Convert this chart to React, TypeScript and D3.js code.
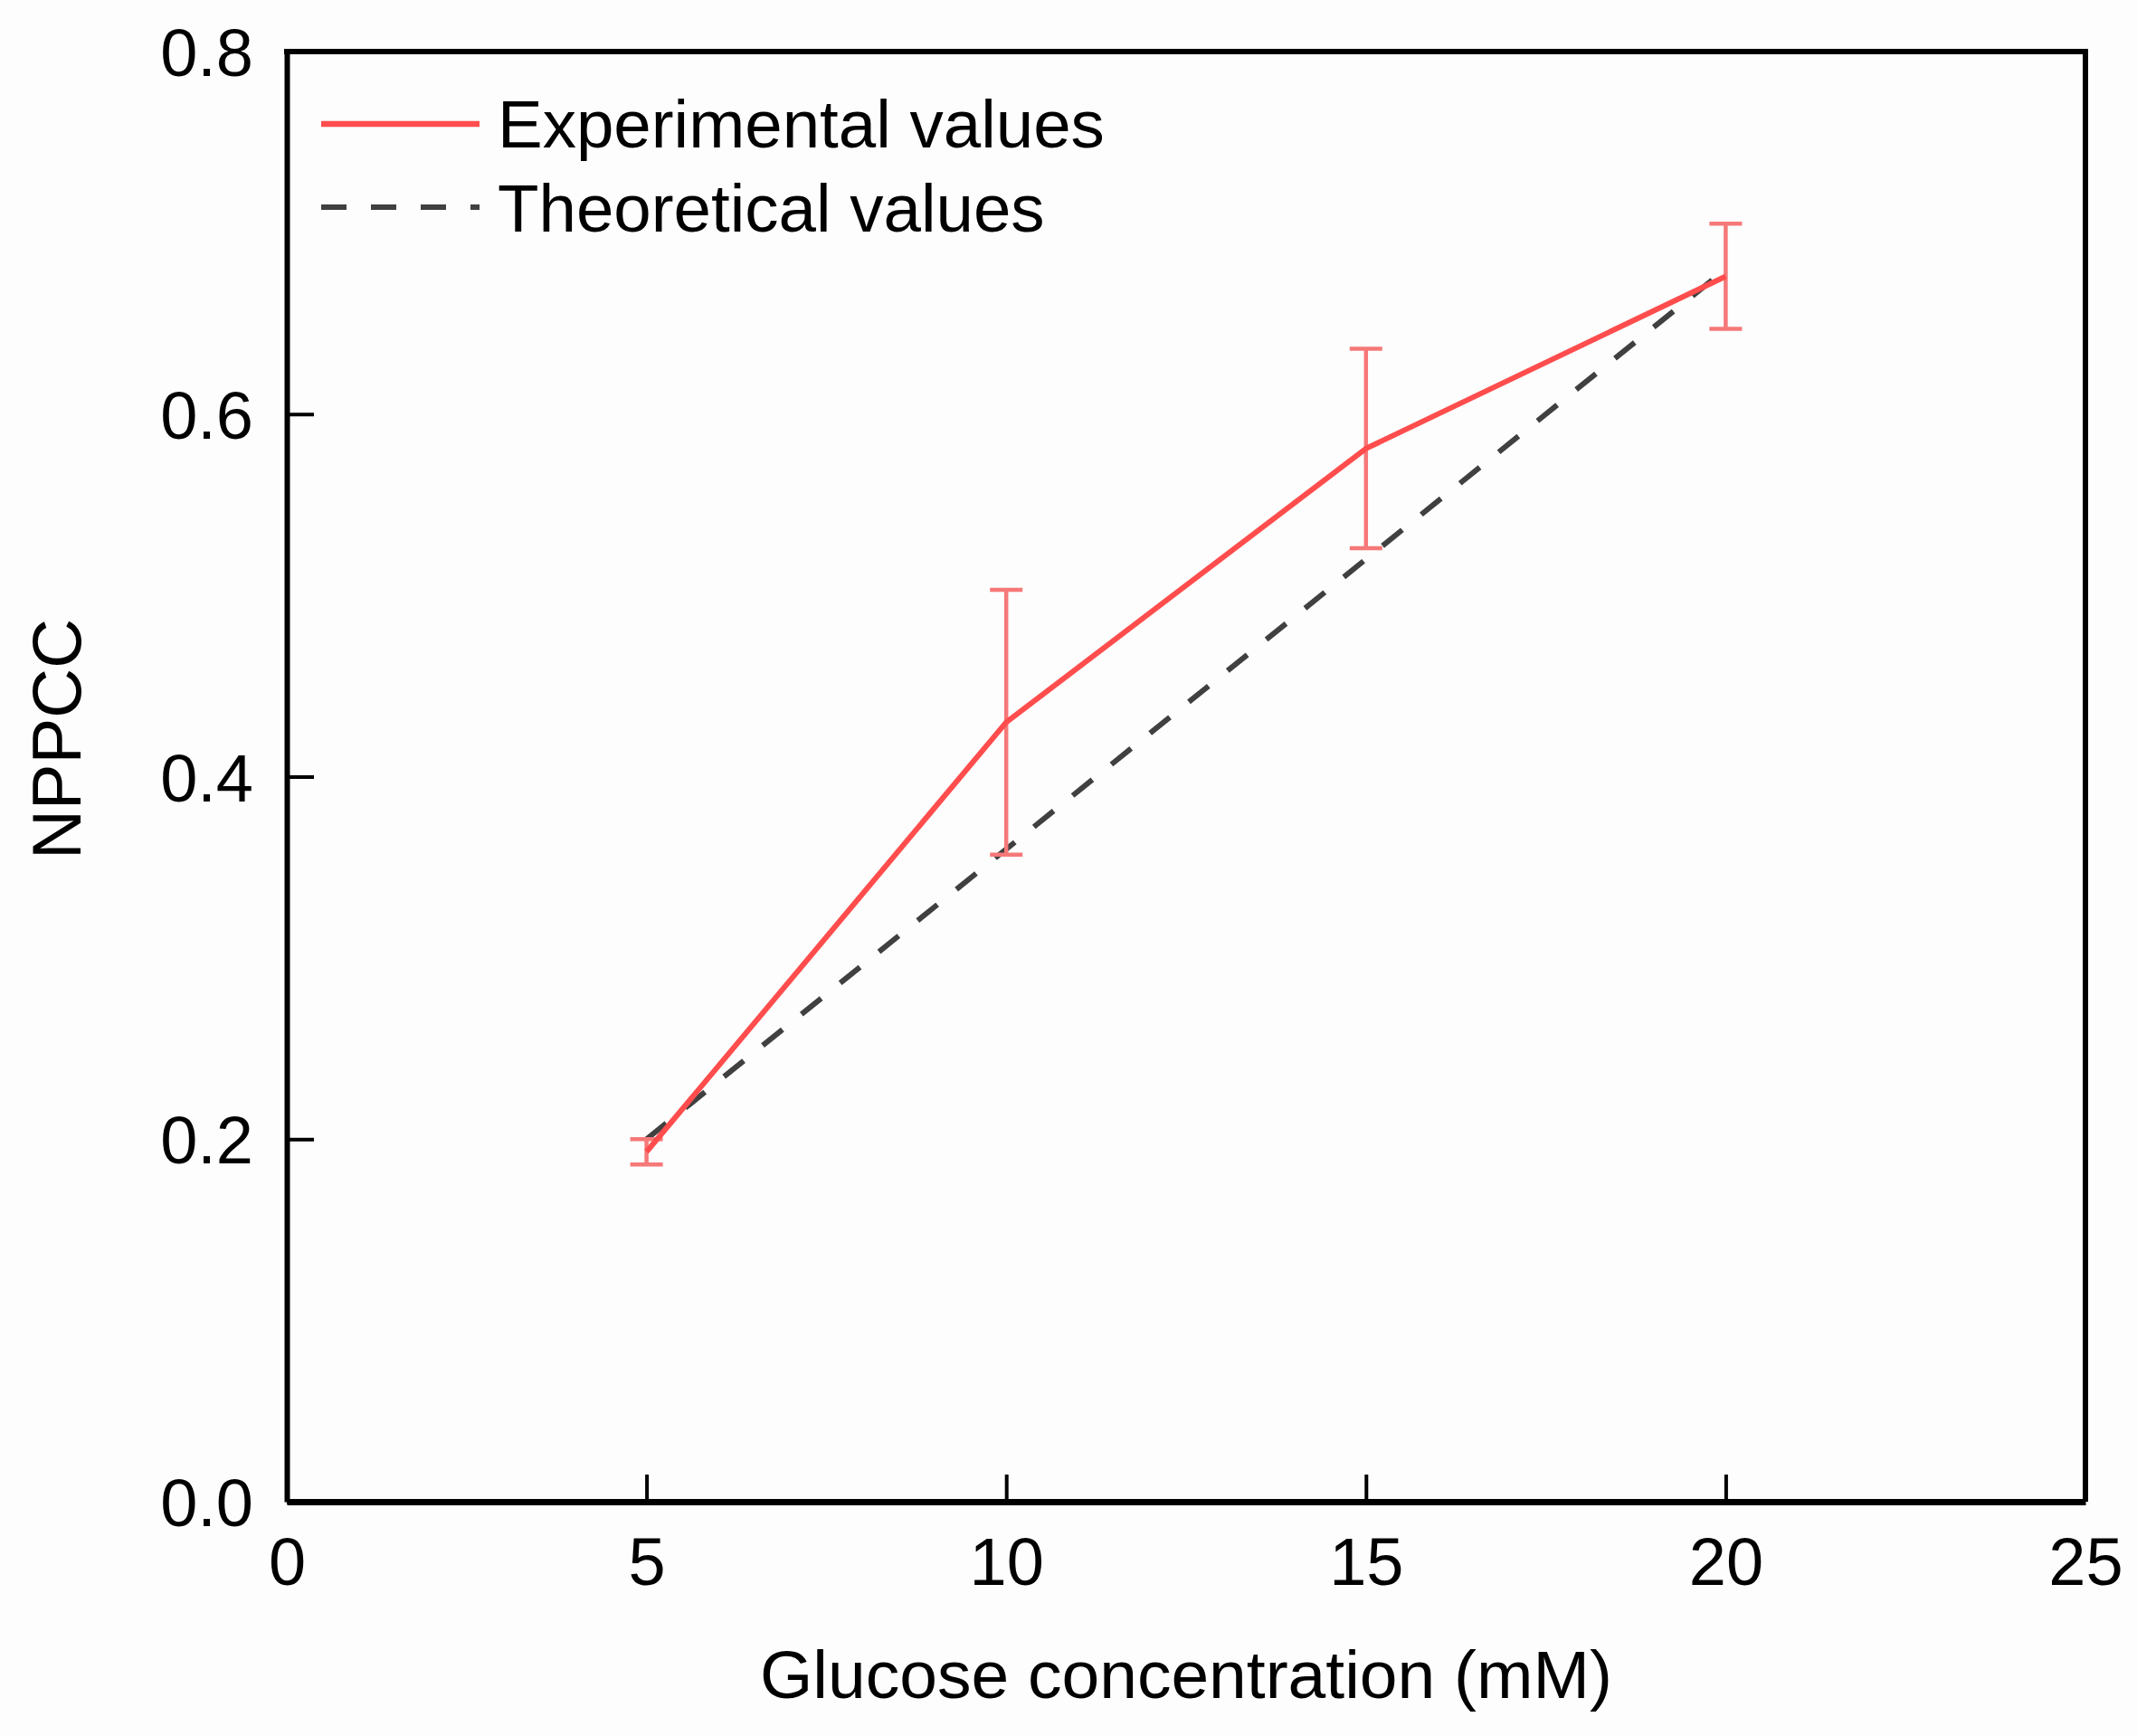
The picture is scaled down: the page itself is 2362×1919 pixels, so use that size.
import { useRef, useEffect } from 'react';
import * as d3 from 'd3';

const concentrations = [5, 10, 15, 20];
const experimental = [0.193, 0.43, 0.581, 0.676];
const experimentalErr = [0.007, 0.073, 0.055, 0.029];
const theoretical = [0.2, 0.36, 0.52, 0.68];
const xTicks = [0, 5, 10, 15, 20, 25];
const yTicks = [0, 0.2, 0.4, 0.6, 0.8];
const legendLabels = ['Experimental values', 'Theoretical values'];

const W = 2362;
const H = 1919;
const FONT = '"Liberation Sans", Arial, sans-serif';

export default function App() {
  const svgRef = useRef<SVGSVGElement>(null);

  useEffect(() => {
    if (!svgRef.current) return;
    const svg = d3.select(svgRef.current);
    svg.selectAll('*').remove();

    const margin = { top: 57, right: W - 2305, bottom: H - 1660, left: 317 };
    const innerWidth = W - margin.left - margin.right;
    const innerHeight = H - margin.top - margin.bottom;

    const red = '#ff4d4d';
    const errRed = '#f67878';
    const grey = '#404040';

    svg.append('rect').attr('width', W).attr('height', H).attr('fill', '#fdfdfd');

    const g = svg.append('g').attr('transform', `translate(${margin.left},${margin.top})`);

    const x = d3.scaleLinear().domain([0, 25]).range([0, innerWidth]);
    const y = d3.scaleLinear().domain([0, 0.8]).range([innerHeight, 0]);

    // X axis, ticks point inward
    const xAxis = g
      .append('g')
      .attr('transform', `translate(0,${innerHeight})`)
      .call(d3.axisBottom(x).tickValues(xTicks).tickSizeInner(-30).tickSizeOuter(0).tickFormat(d3.format('d')));
    xAxis.select('.domain').attr('stroke', '#000').attr('stroke-width', 7);
    xAxis.selectAll('.tick line').attr('stroke', '#000').attr('stroke-width', 4);
    xAxis
      .selectAll('.tick text')
      .attr('y', 92)
      .attr('dy', 0)
      .attr('fill', '#000')
      .attr('font-size', 74)
      .attr('font-family', FONT);

    // Y axis
    const yAxis = g
      .append('g')
      .call(d3.axisLeft(y).tickValues(yTicks).tickSizeInner(-30).tickSizeOuter(0).tickFormat(d3.format('.1f')));
    yAxis.select('.domain').attr('stroke', '#000').attr('stroke-width', 6);
    yAxis.selectAll('.tick line').attr('stroke', '#000').attr('stroke-width', 4);
    yAxis
      .selectAll('.tick text')
      .attr('x', -37)
      .attr('dy', '0.36em')
      .attr('fill', '#000')
      .attr('font-size', 74)
      .attr('font-family', FONT);

    // Top and right frame
    g.append('line')
      .attr('x1', -3).attr('x2', innerWidth + 3)
      .attr('y1', 0).attr('y2', 0)
      .attr('stroke', '#000').attr('stroke-width', 6);
    g.append('line')
      .attr('x1', innerWidth).attr('x2', innerWidth)
      .attr('y1', 0).attr('y2', innerHeight)
      .attr('stroke', '#000').attr('stroke-width', 6);

    // Theoretical dashed line
    const seriesLine = d3
      .line<number>()
      .x((_, i) => x(concentrations[i]))
      .y((d) => y(d));
    g.append('path')
      .datum(theoretical)
      .attr('d', seriesLine)
      .attr('fill', 'none')
      .attr('stroke', grey)
      .attr('stroke-width', 6)
      .attr('stroke-dasharray', '28 27');

    // Error bars
    const bars = g
      .selectAll('.err')
      .data(experimental)
      .enter()
      .append('g')
      .attr('class', 'err')
      .attr('stroke', errRed)
      .attr('stroke-width', 4.5);
    bars
      .append('line')
      .attr('x1', (_, i) => x(concentrations[i]))
      .attr('x2', (_, i) => x(concentrations[i]))
      .attr('y1', (d, i) => y(d + experimentalErr[i]))
      .attr('y2', (d, i) => y(d - experimentalErr[i]));
    bars
      .append('line')
      .attr('x1', (_, i) => x(concentrations[i]) - 18)
      .attr('x2', (_, i) => x(concentrations[i]) + 18)
      .attr('y1', (d, i) => y(d + experimentalErr[i]))
      .attr('y2', (d, i) => y(d + experimentalErr[i]));
    bars
      .append('line')
      .attr('x1', (_, i) => x(concentrations[i]) - 18)
      .attr('x2', (_, i) => x(concentrations[i]) + 18)
      .attr('y1', (d, i) => y(d - experimentalErr[i]))
      .attr('y2', (d, i) => y(d - experimentalErr[i]));

    // Experimental line
    g.append('path')
      .datum(experimental)
      .attr('d', seriesLine)
      .attr('fill', 'none')
      .attr('stroke', red)
      .attr('stroke-width', 6)
      .attr('stroke-linejoin', 'round');

    // Legend
    const legend = svg.append('g').attr('font-family', FONT).attr('font-size', 74.5);
    legend.append('line')
      .attr('x1', 355).attr('x2', 530).attr('y1', 137).attr('y2', 137)
      .attr('stroke', red).attr('stroke-width', 6.5);
    legend.append('text').attr('x', 550).attr('y', 163).text(legendLabels[0]);
    legend.append('line')
      .attr('x1', 355).attr('x2', 530).attr('y1', 229).attr('y2', 229)
      .attr('stroke', grey).attr('stroke-width', 6).attr('stroke-dasharray', '28 27');
    legend.append('text').attr('x', 550).attr('y', 256).text(legendLabels[1]);

    // Axis titles
    svg.append('text')
      .attr('x', margin.left + innerWidth / 2)
      .attr('y', 1877)
      .attr('text-anchor', 'middle')
      .attr('font-family', FONT)
      .attr('font-size', 75)
      .text('Glucose concentration (mM)');
    svg.append('text')
      .attr('transform', 'translate(89,817) rotate(-90)')
      .attr('text-anchor', 'middle')
      .attr('font-family', FONT)
      .attr('font-size', 76)
      .text('NPPCC');
  }, []);

  return (
    <div style={{ position: 'absolute', left: 0, top: 0 }}>
      <svg ref={svgRef} width={W} height={H} style={{ display: 'block' }} />
    </div>
  );
}
